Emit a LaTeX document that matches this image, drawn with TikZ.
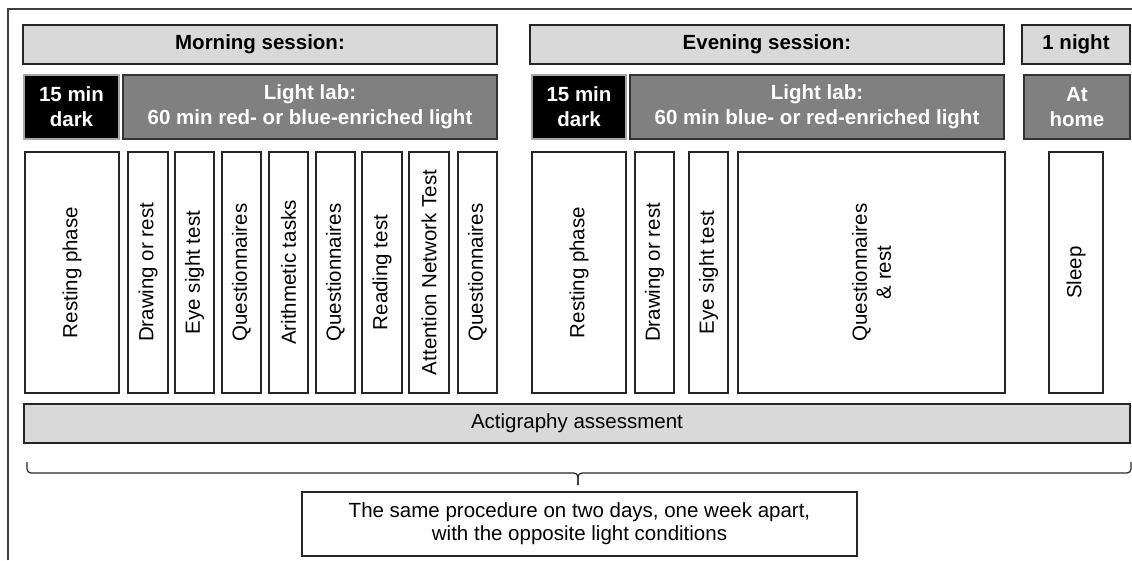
\documentclass[tikz,border=0pt]{standalone}
\usepackage{fontspec}
\setmainfont{Liberation Sans}
\definecolor{lgray}{HTML}{D9D9D9}
\definecolor{dgray}{HTML}{808080}
\newcommand{\mybox}[7]{\node[#1, minimum width={(#4)-(#2)}, minimum height={(#5)-(#3)}] (#6) at ({((#2)+(#4))/2},{((#3)+(#5))/2}) {#7};}
\newcommand{\myvbox}[7]{\node[#1, rotate=90, minimum width={(#5)-(#3)}, minimum height={(#4)-(#2)}] (#6) at ({((#2)+(#4))/2},{((#3)+(#5))/2}) {#7};}
\begin{document}
\begin{tikzpicture}[x=1pt,y=-1pt,
 base/.style={rectangle, inner sep=0pt, outer sep=0pt, line width=1.3pt, align=center, font=\fontsize{20.5}{24}\selectfont},
 headbox/.style={base, draw=black!85, fill=lgray, font=\bfseries\fontsize{20.5}{24}\selectfont},
 darkbox/.style={base, draw=black!35, fill=black, text=white, font=\bfseries\fontsize{20.5}{25}\selectfont},
 labbox/.style={base, draw=black!80, fill=dgray, text=white, font=\bfseries\fontsize{20.5}{25}\selectfont},
 taskbox/.style={base, draw=black!85, fill=white},
 actbox/.style={base, draw=black!85, fill=lgray},
 notebox/.style={base, draw=black!85, fill=white, font=\fontsize{20.5}{23}\selectfont},
 brace/.style={line width=1.2pt, draw=black!85, rounded corners=4pt},
 frame/.style={line width=1.5pt, draw=black!75}
]
\useasboundingbox (0,0) rectangle (1132,560);
\coordinate (fb) at (8,560);
\coordinate (fc) at (8,9);
\coordinate (fr) at (1132,9);
\draw[frame] (fb) -- (fc) -- (fr);
% row 1
\mybox{headbox}{23}{25}{497}{64}{morning}{Morning session:}
\mybox{headbox}{530}{25}{1004}{64}{evening}{Evening session:}
\mybox{headbox}{1022}{25}{1130}{64}{night}{1 night}
% row 2
\mybox{darkbox}{24}{75}{119}{139}{darkA}{15 min\\dark}
\mybox{labbox}{123}{75}{497}{139}{labA}{Light lab:\\60 min red- or blue-enriched light}
\mybox{darkbox}{532}{75}{626}{139}{darkB}{15 min\\dark}
\mybox{labbox}{630}{75}{1004}{139}{labB}{Light lab:\\60 min blue- or red-enriched light}
\mybox{labbox}{1024}{75}{1130}{139}{home}{At\\home}
% tasks
\myvbox{taskbox}{25}{152}{119}{393}{t1}{Resting phase}
\myvbox{taskbox}{128}{152}{168}{393}{t2}{Drawing or rest}
\myvbox{taskbox}{175}{152}{214}{393}{t3}{Eye sight test}
\myvbox{taskbox}{222}{152}{261}{393}{t4}{Questionnaires}
\myvbox{taskbox}{269}{152}{308}{393}{t5}{Arithmetic tasks}
\myvbox{taskbox}{316}{152}{355}{393}{t6}{Questionnaires}
\myvbox{taskbox}{362}{152}{402}{393}{t7}{Reading test}
\myvbox{taskbox}{409}{152}{449}{393}{t8}{Attention Network Test}
\myvbox{taskbox}{458}{152}{497}{393}{t9}{Questionnaires}
\myvbox{taskbox}{532}{152}{626}{393}{t10}{Resting phase}
\myvbox{taskbox}{635}{152}{674}{393}{t11}{Drawing or rest}
\myvbox{taskbox}{689}{152}{728}{393}{t12}{Eye sight test}
\myvbox{taskbox}{738}{152}{1005}{393}{t13}{Questionnaires\\\& rest}
\myvbox{taskbox}{1049}{152}{1103}{393}{t14}{Sleep}
% actigraphy
\mybox{actbox}{24}{404}{1130}{443}{act}{Actigraphy assessment}
% brace
\coordinate (bL) at (27,462);
\coordinate (bR) at (1131,462);
\coordinate (bM) at (578,473);
\coordinate (bT) at (578,485);
\draw[brace] (bL) |- (bM) -- (bT);
\draw[brace] (bR) |- (bM) -- (bT);
% note
\mybox{notebox}{302}{492}{857}{556}{note}{The same procedure on two days, one week apart,\\with the opposite light conditions}
\end{tikzpicture}
\end{document}
